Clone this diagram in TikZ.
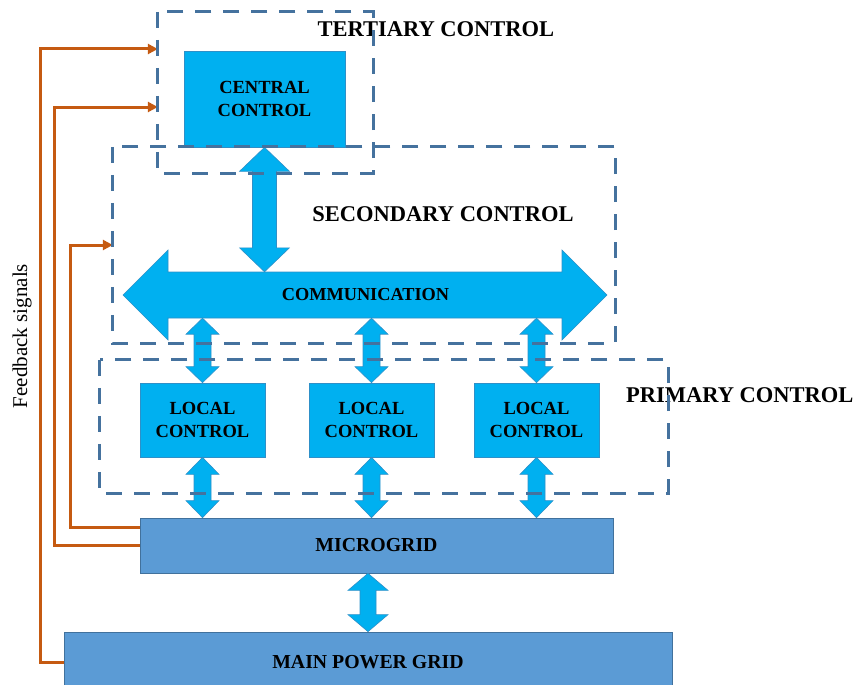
\documentclass[tikz,border=0pt]{standalone}
\usepackage{fontspec}
\setmainfont{Liberation Serif}
\usetikzlibrary{calc,arrows.meta}
\definecolor{cyanfill}{HTML}{00B0F0}
\definecolor{cyanedge}{HTML}{2E90C8}
\definecolor{gridfill}{HTML}{5B9BD5}
\definecolor{gridedge}{HTML}{41719C}
\definecolor{dashcol}{HTML}{45729E}
\definecolor{fbcol}{HTML}{C55A11}
\tikzset{
  ctrlbox/.style={draw=cyanedge, line width=0.7pt, fill=cyanfill, inner sep=0pt, align=center,
    font=\bfseries\fontsize{18.5}{23}\selectfont},
  gridbox/.style={draw=gridedge, line width=0.7pt, fill=gridfill, inner sep=0pt, align=center,
    font=\bfseries\fontsize{19.8}{23}\selectfont},
  fat/.style={fill=cyanfill, draw=cyanedge, line width=0.6pt, line join=miter},
  zone/.style={inner sep=0pt},
  zoneline/.style={draw=dashcol, line width=3pt, dash pattern=on 16pt off 12pt},
  title/.style={font=\bfseries\fontsize{22.5}{26}\selectfont, inner sep=0pt},
  fb/.style={draw=fbcol, line width=3pt, -{Triangle[length=10pt,width=10pt]}},
}
\newcommand\vfat[5]{%
  \path[fat] let \p1=(#1), \p2=(#2) in
    (\x1,\y1) -- (\x1+#3pt,\y1-#5pt) -- (\x1+#4pt,\y1-#5pt) -- (\x1+#4pt,\y2+#5pt)
    -- (\x1+#3pt,\y2+#5pt) -- (\x1,\y2) -- (\x1-#3pt,\y2+#5pt) -- (\x1-#4pt,\y2+#5pt)
    -- (\x1-#4pt,\y1-#5pt) -- (\x1-#3pt,\y1-#5pt) -- cycle;}
\begin{document}
\begin{tikzpicture}[x=1pt,y=-1pt]
\useasboundingbox (0,0) rectangle (857,685);
% zones (drawn at the end)
\node[zone, minimum width=215pt, minimum height=161pt] (tert) at (265.5,92.5) {};
\node[zone, minimum width=502pt, minimum height=196pt] (sec) at (364,245) {};
\node[zone, minimum width=568pt, minimum height=133pt] (prim) at (384,426.5) {};
% titles
\node[title] (ttert) at (436,29) {TERTIARY CONTROL};
\node[title] (tsec) at (443,214) {SECONDARY CONTROL};
\node[title, anchor=west] (tprim) at (626,395) {PRIMARY CONTROL};
% boxes
\node[ctrlbox, minimum width=161pt, minimum height=96pt] (central) at (264.5,99) {CENTRAL\\CONTROL};
\node[ctrlbox, minimum width=125pt, minimum height=74pt] (lc1) at (202.5,420) {LOCAL\\CONTROL};
\node[ctrlbox, minimum width=125pt, minimum height=74pt] (lc2) at (371.5,420) {LOCAL\\CONTROL};
\node[ctrlbox, minimum width=125pt, minimum height=74pt] (lc3) at (536.5,420) {LOCAL\\CONTROL};
\node[gridbox, minimum width=473pt, minimum height=55pt] (mg) at (376.5,545.5) {MICROGRID};
\node[gridbox, minimum width=608pt, minimum height=60pt] (mpg) at (368,662) {MAIN POWER GRID};
% communication arrow
\path[fat] (123,295) -- (168,250) -- (168,272) -- (562,272) -- (562,250) -- (607,295)
  -- (562,340) -- (562,318) -- (168,318) -- (168,340) -- cycle;
\node[inner sep=0pt, minimum width=394pt, minimum height=46pt,
  font=\bfseries\fontsize{18.3}{20}\selectfont] (comm) at (365.5,295) {COMMUNICATION};
% fat double arrows
\vfat{central.south}{comm.north}{25}{12}{24}
\vfat{comm.south -| lc1.north}{lc1.north}{16.5}{8.5}{16}
\vfat{comm.south -| lc2.north}{lc2.north}{16.5}{8.5}{16}
\vfat{comm.south -| lc3.north}{lc3.north}{16.5}{8.5}{16}
\vfat{lc1.south}{lc1.south |- mg.north}{16.5}{8.5}{17}
\vfat{lc2.south}{lc2.south |- mg.north}{16.5}{8.5}{17}
\vfat{lc3.south}{lc3.south |- mg.north}{16.5}{8.5}{17}
\vfat{mg.south -| mpg.north}{mpg.north}{20}{8}{17}
% feedback signals
\coordinate (fb1) at (40,49);
\coordinate (fb2) at (54,107);
\coordinate (fb3) at (70,245);
\coordinate (mgtap) at ($(mg.north west)+(0,10)$);
\draw[fb] (mpg.west) -| (fb1) -- (fb1 -| tert.west);
\draw[fb] (mg.west) -| (fb2) -- (fb2 -| tert.west);
\draw[fb] (mgtap) -| (fb3) -- (fb3 -| sec.west);
\node[rotate=90, inner sep=0pt, font=\fontsize{21}{24}\selectfont] (fbtext) at (22,336) {Feedback signals};
% dashed zones on top
\draw[zoneline] (tert.north west) rectangle (tert.south east);
\draw[zoneline] (sec.north west) rectangle (sec.south east);
\draw[zoneline] (prim.north west) rectangle (prim.south east);
\end{tikzpicture}
\end{document}
